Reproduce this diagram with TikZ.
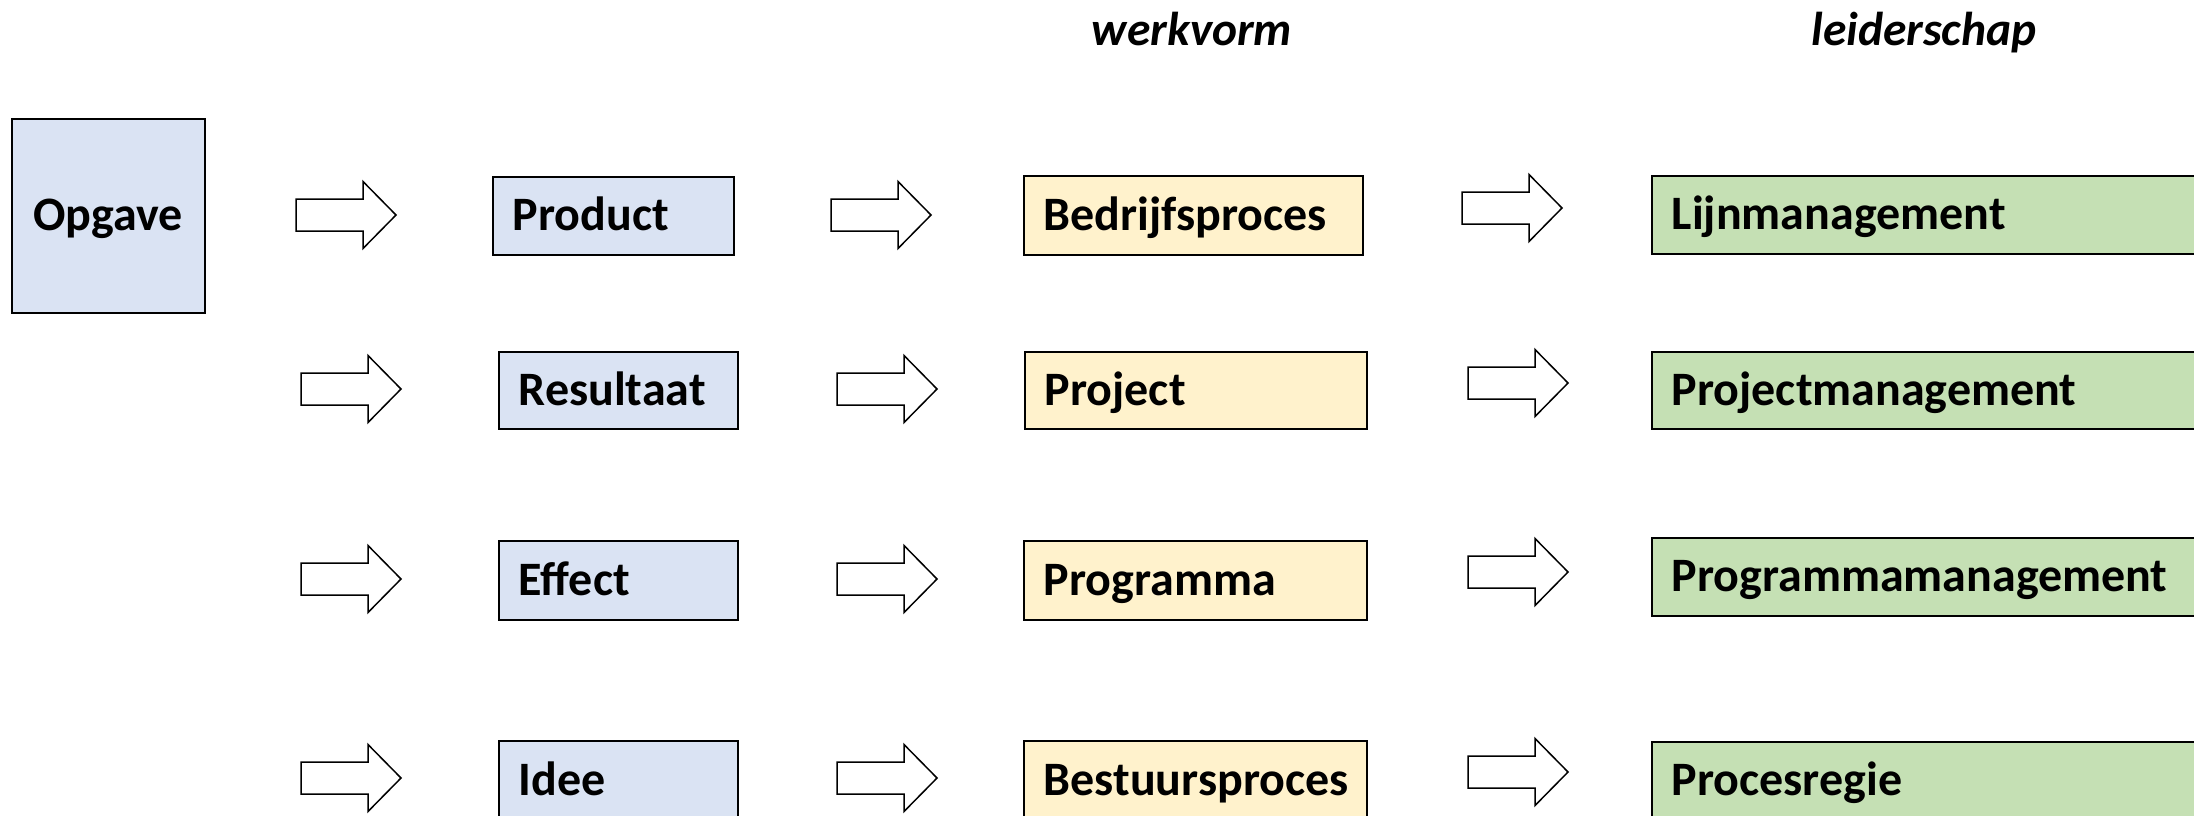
\documentclass[tikz,border=0pt]{standalone}
\usepackage{fontspec}
\setmainfont{Carlito}
\definecolor{boxblue}{HTML}{DAE3F3}
\definecolor{boxyellow}{HTML}{FFF2CC}
\definecolor{boxgreen}{HTML}{C5E0B4}
\tikzset{
  box/.style={draw=black, line width=1.5pt, anchor=north west, inner xsep=20pt, inner ysep=0pt,
    align=left, font=\fontsize{48}{57}\selectfont\bfseries, text height=30pt, text depth=0pt},
  bluebox/.style={box, fill=boxblue},
  yellowbox/.style={box, fill=boxyellow},
  greenbox/.style={box, fill=boxgreen},
  title/.style={anchor=base, font=\fontsize{47.5}{57}\selectfont\bfseries\itshape},
  blockarrow/.pic={\draw[line width=1.5pt, fill=white, line join=miter]
     (0,-16) -- (67,-16) -- (67,-33.5) -- (100,0) -- (67,33.5) -- (67,16) -- (0,16) -- cycle;}
}
\begin{document}
\begin{tikzpicture}[x=1pt,y=-1pt]
\useasboundingbox (0,0) rectangle (2194,815);
\clip (0,0) rectangle (2194,815);

% titles
\node[title] (werkvorm) at (1192,45) {werkvorm};
\node[title] (leiderschap) at (1924,45) {leiderschap};

% first column
\node[bluebox, align=center, inner xsep=0pt, text width=193pt, minimum width=193pt, minimum height=194pt] (opgave) at (11,118) {Opgave};

% second column
\node[bluebox, text width=201pt, minimum width=241pt, minimum height=78pt] (product) at (492,176) {Product};
\node[bluebox, text width=199pt, minimum width=239pt, minimum height=77pt] (resultaat) at (498,351) {Resultaat};
\node[bluebox, text width=199pt, minimum width=239pt, minimum height=79pt] (effect) at (498,540) {Effect};
\node[bluebox, text width=199pt, minimum width=239pt, minimum height=79pt] (idee) at (498,740) {Idee};

% third column
\node[yellowbox, text width=299pt, minimum width=339pt, minimum height=79pt] (bedrijfsproces) at (1023,175) {Bedrijfsproces};
\node[yellowbox, text width=302pt, minimum width=342pt, minimum height=77pt] (project) at (1024,351) {Project};
\node[yellowbox, text width=303pt, minimum width=343pt, minimum height=79pt] (programma) at (1023,540) {Programma};
\node[yellowbox, text width=303pt, minimum width=343pt, minimum height=79pt] (bestuursproces) at (1023,740) {Bestuursproces};

% fourth column
\node[greenbox, text width=560pt, minimum width=600pt, minimum height=78pt] (lijn) at (1651,175) {Lijnmanagement};
\node[greenbox, text width=560pt, minimum width=600pt, minimum height=77pt] (projm) at (1651,351) {Projectmanagement};
\node[greenbox, text width=560pt, minimum width=600pt, minimum height=78pt] (progm) at (1651,537) {Programmamanagement};
\node[greenbox, text width=560pt, minimum width=600pt, minimum height=78pt] (procesregie) at (1651,741) {Procesregie};

% block arrows
\pic (a11) at (296,215) {blockarrow};
\pic (a21) at (301,389) {blockarrow};
\pic (a31) at (301,579) {blockarrow};
\pic (a41) at (301,778) {blockarrow};

\pic (a12) at (831,215) {blockarrow};
\pic (a22) at (837,389) {blockarrow};
\pic (a32) at (837,579) {blockarrow};
\pic (a42) at (837,778) {blockarrow};

\pic (a13) at (1462,208) {blockarrow};
\pic (a23) at (1468,383) {blockarrow};
\pic (a33) at (1468,572) {blockarrow};
\pic (a43) at (1468,772) {blockarrow};
\end{tikzpicture}
\end{document}
